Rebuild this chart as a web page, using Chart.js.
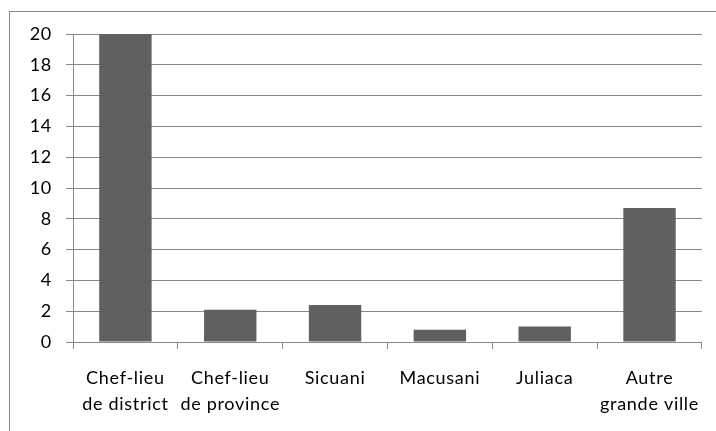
<!DOCTYPE html>
<html>
<head>
<meta charset="utf-8">
<script src="https://cdn.jsdelivr.net/npm/chart.js@4"></script>
<style>
  html, body { margin: 0; padding: 0; background: #fff; }
  #wrap { width: 716px; height: 431px; }
</style>
</head>
<body>
<div id="wrap"><canvas id="barChart" width="716" height="431"></canvas></div>
<script>
let categories = [
  ["Chef-lieu", "de district"],
  ["Chef-lieu", "de province"],
  "Sicuani",
  "Macusani",
  "Juliaca",
  ["Autre", "grande ville"]
];
let values = [20, 2.1, 2.4, 0.8, 1.0, 8.7];
let yTicks = [0, 2, 4, 6, 8, 10, 12, 14, 16, 18, 20];

// outer frame of the chart object (clipped on the right and bottom)
let framePlugin = {
  id: "frame",
  beforeUpdate(chart) {
    chart.ctx.letterSpacing = "0.7px";
  },
  beforeDraw(chart) {
    let ctx = chart.ctx;
    ctx.letterSpacing = "0.7px";
    ctx.save();
    ctx.strokeStyle = "#888888";
    ctx.lineWidth = 1;
    ctx.strokeRect(9.5, 11.5, 800, 600);
    ctx.restore();
  }
};

let labelFont = { family: "Lato, 'Open Sans', sans-serif", size: 18, lineHeight: 1.45 };

window.onload = function() {
  let ctx = document.getElementById("barChart").getContext("2d");
  window.myBar = new Chart(ctx, {
    type: "bar",
    data: {
      labels: categories,
      datasets: [{
        data: values,
        backgroundColor: "#606060",
        borderWidth: 0,
        barPercentage: 0.5,
        categoryPercentage: 1.0
      }]
    },
    options: {
      responsive: false,
      animation: false,
      layout: { padding: { left: 0, top: 34, right: 12, bottom: 0 } },
      plugins: {
        legend: { display: false },
        title: { display: false },
        tooltip: { enabled: false }
      },
      scales: {
        x: {
          offset: true,
          grid: {
            offset: true,
            drawOnChartArea: false,
            drawTicks: true,
            tickLength: 7,
            color: "#888888"
          },
          border: { color: "#888888" },
          ticks: {
            color: "#000",
            font: labelFont,
            padding: 16,
            maxRotation: 0,
            autoSkip: false
          },
          afterFit(scale) { scale.height = 89; }
        },
        y: {
          min: 0,
          max: 20,
          afterBuildTicks(scale) {
            scale.ticks = yTicks.map(v => ({ value: v }));
          },
          grid: {
            color: "#888888",
            tickLength: 7
          },
          border: { color: "#888888" },
          ticks: {
            color: "#000",
            font: labelFont,
            padding: 14
          },
          afterFit(scale) { scale.width = 73; }
        }
      }
    },
    plugins: [framePlugin]
  });
};
</script>
</body>
</html>
